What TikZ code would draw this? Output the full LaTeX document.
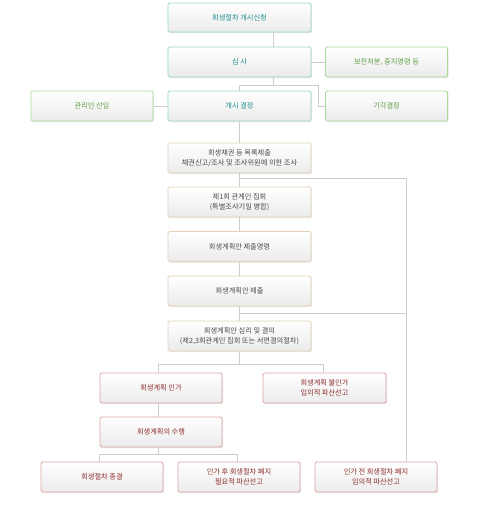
\documentclass[tikz,border=0pt]{standalone}
\usepackage{fontspec}
\setmainfont{Noto Sans CJK KR}
\usetikzlibrary{shadows}
\definecolor{tealb}{HTML}{9AD3C6}
\definecolor{tealt}{HTML}{1E8C8C}
\definecolor{greenb}{HTML}{A9D89C}
\definecolor{greent}{HTML}{5E9E45}
\definecolor{tanb}{HTML}{E2D2B8}
\definecolor{tant}{HTML}{4A4A4A}
\definecolor{redb}{HTML}{D9A5A2}
\definecolor{redt}{HTML}{8E2B2B}
\definecolor{boxbot}{HTML}{EBEBEB}
\definecolor{linec}{HTML}{CDCDCD}
\tikzset{
  box/.style={draw, rounded corners=1.5pt, line width=0.8pt, top color=white, bottom color=boxbot,
    minimum width=143pt, minimum height=30pt, inner sep=0pt, align=center,
    font=\fontsize{7.2}{10}\selectfont,
    drop shadow={shadow xshift=1pt, shadow yshift=-1.2pt, opacity=0.18}},
  tealbox/.style={box, draw=tealb, text=tealt},
  greenbox/.style={box, draw=greenb, text=greent, minimum width=122pt},
  tanbox/.style={box, draw=tanb, text=tant},
  redbox/.style={box, draw=redb, text=redt, minimum width=122pt},
  conn/.style={draw=linec, line width=0.8pt}
}
\begin{document}
\begin{tikzpicture}[x=1pt,y=-1pt]
\useasboundingbox (0,0) rectangle (480,512);
\node[tealbox, minimum height=29pt] (n1) at (239.5,17.5) {회생절차 개시신청};
\node[tealbox] (n2) at (239.5,62) {심 사};
\node[greenbox] (n3) at (386.5,62) {보전처분, 중지명령 등};
\node[greenbox] (n4) at (92,106) {관리인 선임};
\node[tealbox] (n5) at (239.5,106) {개시 결정};
\node[greenbox] (n6) at (386.5,106) {기각결정};
\node[tanbox] (n7) at (239.5,158) {회생채권 등 목록제출\\채권신고/조사 및 조사위원에 의한 조사};
\node[tanbox] (n8) at (239.5,202) {제1회 관계인 집회\\(특별조사기일 병합)};
\node[tanbox] (n9) at (239.5,246.5) {회생계획안 제출명령};
\node[tanbox] (n10) at (239.5,291) {회생계획안 제출};
\node[tanbox] (n11) at (239.5,336) {회생계획안 심리 및 결의\\(제2,3회관계인 집회 또는 서면결의절차)};
\node[redbox] (n12) at (161,388) {회생계획 인가};
\node[redbox, minimum width=123pt] (n13) at (324.5,388) {회생계획 불인가\\임의적 파산선고};
\node[redbox] (n14) at (161,432) {회생계획의 수행};
\node[redbox] (n15) at (102,477) {회생절차 종결};
\node[redbox] (n16) at (239,477) {인가 후 회생절차 폐지\\필요적 파산선고};
\node[redbox] (n17) at (376,477) {인가 전 회생절차 폐지\\임의적 파산선고};
% junction coordinates
\coordinate (a) at (273,85);
\coordinate (b) at (239,85);
\coordinate (c) at (318,85);
\coordinate (c2) at (318,106);
\coordinate (r1) at (406,178);
\coordinate (r2) at (406,313);
\coordinate (d) at (239,364);
\coordinate (dl) at (158,364);
\coordinate (dr) at (323,364);
\coordinate (e) at (158,454);
\coordinate (el) at (99,454);
\coordinate (er) at (237,454);
% connectors
\path[conn] (n1.south -| a) -- (n2.north -| a);
\path[conn] (n2.south -| a) -- (a);
\path[conn] (n5.north -| b) -- (b) -- (c) -- (c2) -- (n6.west);
\path[conn] (n2.east) -- (n3.west);
\path[conn] (n4.east) -- (n5.west);
\path[conn] (n5.south -| b) -- (n7.north -| b);
\path[conn] (n7.south -| b) -- (n8.north -| b);
\path[conn] (n8.south -| b) -- (n9.north -| b);
\path[conn] (n9.south -| b) -- (n10.north -| b);
\path[conn] (n10.south -| b) -- (n11.north -| b);
\path[conn] (r1 -| b) -- (r1) -- (n17.north -| r1);
\path[conn] (r2 -| b) -- (r2);
\path[conn] (n11.south -| d) -- (d);
\path[conn] (n12.north -| dl) -- (dl) -- (dr) -- (n13.north -| dr);
\path[conn] (n12.south -| dl) -- (n14.north -| dl);
\path[conn] (n14.south -| e) -- (e);
\path[conn] (n15.north -| el) -- (el) -- (er) -- (n16.north -| er);
\end{tikzpicture}
\end{document}
